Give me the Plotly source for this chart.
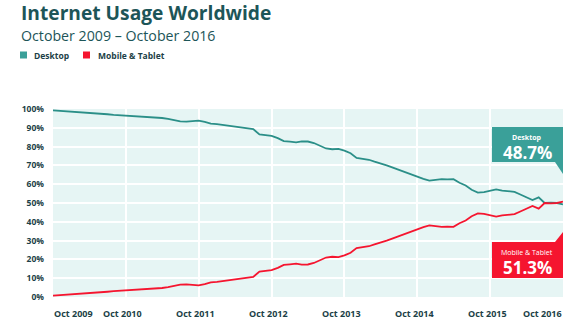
import pandas as pd
import plotly.graph_objects as go

# ---- data ----
months = pd.date_range("2009-10-01", "2016-10-01", freq="MS")
desktop = [99.3, 99.1, 98.9, 98.7, 98.5, 98.3, 98.0, 97.8, 97.5, 97.2, 96.9, 96.7,
           96.4, 96.3, 96.2, 96.0, 95.8, 95.6, 95.2, 94.7, 94.0, 93.4, 93.3, 93.7,
           93.8, 93.1, 92.2, 92.0, 91.6, 91.2, 90.7, 90.3, 89.9, 89.3, 86.5, 86.1,
           85.7, 84.5, 82.9, 82.6, 82.3, 82.8, 82.7, 81.9, 80.3, 79.0, 78.6, 78.8,
           77.9, 76.5, 74.0, 73.5, 73.0, 72.0, 71.1, 70.0, 68.8, 67.6, 66.3, 65.1,
           64.0, 62.8, 61.9, 62.4, 62.7, 62.6, 62.7, 60.8, 59.3, 57.0, 55.5, 55.8,
           56.3, 57.2, 56.6, 56.2, 55.9, 54.5, 53.0, 51.6, 53.0, 50.0, 50.2, 50.0,
           49.3]
mobile = [0.7, 0.9, 1.1, 1.3, 1.5, 1.7, 2.0, 2.2, 2.5, 2.8, 3.1, 3.3,
          3.6, 3.7, 3.8, 4.0, 4.2, 4.4, 4.8, 5.3, 6.0, 6.6, 6.7, 6.3,
          6.2, 6.9, 7.8, 8.0, 8.4, 8.8, 9.3, 9.7, 10.1, 10.7, 13.5, 13.9,
          14.3, 15.5, 17.1, 17.4, 17.7, 17.2, 17.3, 18.1, 19.7, 21.0, 21.4, 21.2,
          22.1, 23.5, 26.0, 26.5, 27.0, 28.0, 28.9, 30.0, 31.2, 32.4, 33.7, 34.9,
          36.0, 37.2, 38.1, 37.6, 37.3, 37.4, 37.3, 39.2, 40.7, 43.0, 44.5, 44.2,
          43.7, 42.8, 43.4, 43.8, 44.1, 45.5, 47.0, 48.4, 47.0, 50.0, 49.8, 50.0,
          50.7]
tick_dates = ["2009-10-01", "2010-10-01", "2011-10-01", "2012-10-01",
              "2013-10-01", "2014-10-01", "2015-10-01", "2016-10-01"]
tick_labels = ["Oct 2009", "Oct 2010", "Oct 2011", "Oct 2012",
               "Oct 2013", "Oct 2014", "Oct 2015", "Oct 2016"]
y_ticks = [0, 10, 20, 30, 40, 50, 60, 70, 80, 90, 100]
y_labels = ["0%", "10%", "20%", "30%", "40%", "50%", "60%", "70%", "80%", "90%", "100%"]
final_desktop = "48.7%"
final_mobile = "51.3%"

TEAL_LINE = "#2b8f88"
TEAL_BOX = "#3aa099"
RED = "#f5152f"
DARK = "#1c3f47"
TITLE_C = "#1d5558"
FONT = "Open Sans"

W, H = 586, 323
L, R, T, B = 53, 23, 109, 26
pw, ph = W - L - R, H - T - B


def px(x):
    return (x - L) / pw


def py(y):
    return (H - B - y) / ph


fig = go.Figure()
fig.add_trace(go.Scatter(x=months, y=desktop, mode="lines",
                         line=dict(color=TEAL_LINE, width=1.8), showlegend=False))
fig.add_trace(go.Scatter(x=months, y=mobile, mode="lines",
                         line=dict(color=RED, width=1.8), showlegend=False))

annotations = []
shapes = []

# title / subtitle
annotations.append(dict(text="<b>Internet Usage Worldwide</b>", xref="paper", yref="paper",
                        x=px(20), y=py(12.5), xanchor="left", yanchor="middle", showarrow=False,
                        borderpad=0,
                        font=dict(family=FONT, size=19.2, color=TITLE_C)))
annotations.append(dict(text="October 2009 \u2013 October 2016", xref="paper", yref="paper",
                        x=px(20), y=py(35), xanchor="left", yanchor="middle", showarrow=False,
                        borderpad=0,
                        font=dict(family=FONT, size=14.2, color=TITLE_C)))

# legend
shapes.append(dict(type="rect", xref="paper", yref="paper", x0=px(20), x1=px(27),
                   y0=py(58.5), y1=py(51.5), fillcolor=TEAL_BOX, line=dict(width=0)))
annotations.append(dict(text="<b>Desktop</b>", xref="paper", yref="paper", x=px(32), y=py(55),
                        xanchor="left", yanchor="middle", showarrow=False,
                        font=dict(family=FONT, size=8.5, color=DARK)))
shapes.append(dict(type="rect", xref="paper", yref="paper", x0=px(83), x1=px(90),
                   y0=py(58.5), y1=py(51.5), fillcolor=RED, line=dict(width=0)))
annotations.append(dict(text="<b>Mobile &amp; Tablet</b>", xref="paper", yref="paper", x=px(96), y=py(55),
                        xanchor="left", yanchor="middle", showarrow=False,
                        font=dict(family=FONT, size=8.5, color=DARK)))

# x tick labels
for i, (d, lab) in enumerate(zip(tick_dates, tick_labels)):
    if i == 0:
        xa, xs = "left", -1
    elif i == len(tick_dates) - 1:
        xa, xs = "right", 1
    else:
        xa, xs = "center", -3
    annotations.append(dict(text="<b>%s</b>" % lab, xref="x", yref="paper", x=d, y=py(313),
                            xanchor=xa, yanchor="middle", xshift=xs, showarrow=False,
                            font=dict(family=FONT, size=9, color=DARK)))

# callout boxes
x0b, x1b, xtri = px(492), px(563), px(555)
shapes.append(dict(type="path", xref="paper", yref="paper",
                   path="M %f %f L %f %f L %f %f L %f %f L %f %f L %f %f Z" % (
                       x0b, py(127), x1b, py(127), x1b, py(174), xtri, py(162), x0b, py(162), x0b, py(127)),
                   fillcolor=TEAL_BOX, line=dict(width=0), layer="above"))
shapes.append(dict(type="path", xref="paper", yref="paper",
                   path="M %f %f L %f %f L %f %f L %f %f L %f %f L %f %f Z" % (
                       x0b, py(242), xtri, py(242), x1b, py(232), x1b, py(278), x0b, py(278), x0b, py(242)),
                   fillcolor=RED, line=dict(width=0), layer="above"))
xc = px(527)
annotations.append(dict(text="<b>Desktop</b>", xref="paper", yref="paper", x=xc, y=py(137),
                        xanchor="center", yanchor="middle", showarrow=False,
                        font=dict(family=FONT, size=7, color="white")))
annotations.append(dict(text="<b>%s</b>" % final_desktop, xref="paper", yref="paper", x=xc, y=py(152.5),
                        xanchor="center", yanchor="middle", showarrow=False,
                        font=dict(family=FONT, size=17, color="white")))
annotations.append(dict(text="Mobile &amp; Tablet", xref="paper", yref="paper", x=xc, y=py(252),
                        xanchor="center", yanchor="middle", showarrow=False,
                        font=dict(family=FONT, size=7, color="white")))
annotations.append(dict(text="<b>%s</b>" % final_mobile, xref="paper", yref="paper", x=xc, y=py(267.5),
                        xanchor="center", yanchor="middle", showarrow=False,
                        font=dict(family=FONT, size=17, color="white")))

fig.update_layout(
    width=W, height=H,
    margin=dict(l=L, r=R, t=T, b=B),
    paper_bgcolor="white",
    plot_bgcolor="#e6f5f4",
    font=dict(family=FONT, color=DARK),
    annotations=annotations,
    shapes=shapes,
    showlegend=False,
    xaxis=dict(range=[months[0], months[-1]], tickvals=tick_dates, showticklabels=False,
               showgrid=True, gridcolor="white", gridwidth=1.5, zeroline=False, showline=False,
               fixedrange=True),
    yaxis=dict(range=[0, 100], tickvals=y_ticks, ticktext=y_labels, showgrid=True,
               gridcolor="white", gridwidth=1.5, zeroline=False, showline=False,
               ticklabelstandoff=8,
               tickfont=dict(family=FONT, size=8.5, color=DARK, weight="bold"),
               fixedrange=True),
)

fig.write_html("out.html", config={"displayModeBar": False})
